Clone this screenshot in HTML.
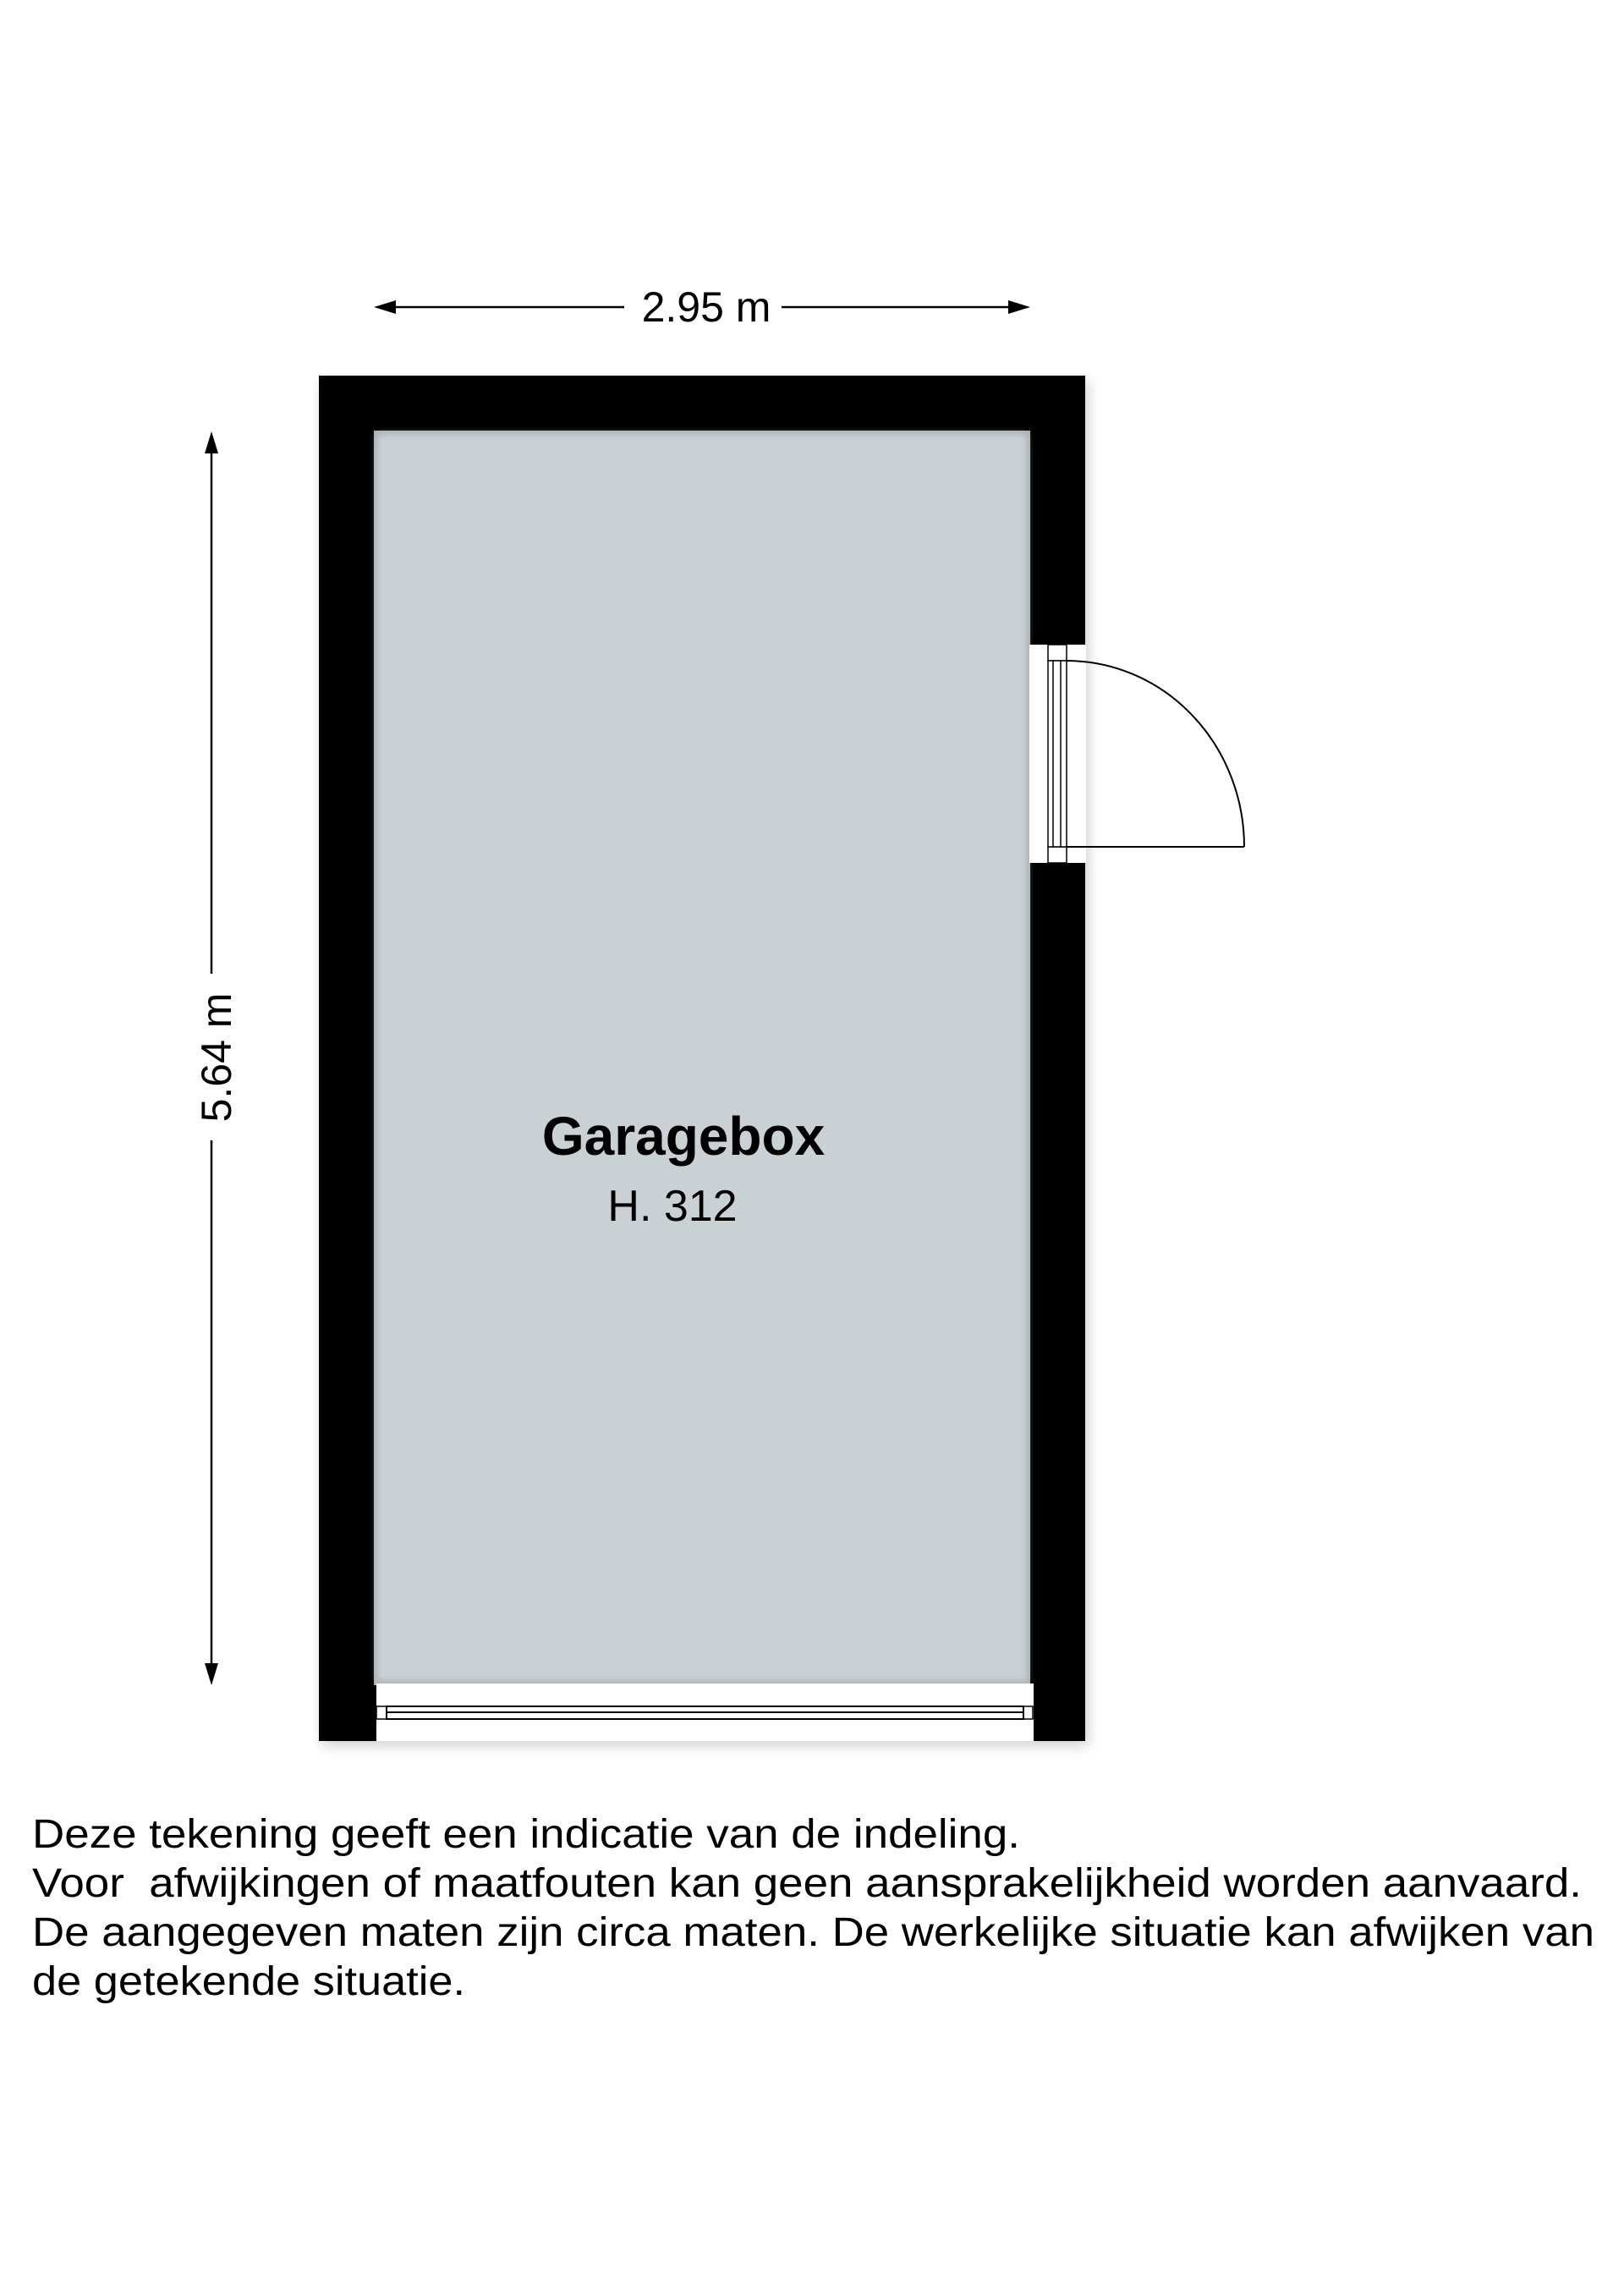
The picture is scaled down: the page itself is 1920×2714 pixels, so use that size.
<!DOCTYPE html>
<html><head><meta charset="utf-8"><style>
html,body{margin:0;padding:0;background:#fff;}
svg{display:block;}
text{font-family:"Liberation Sans",Arial,sans-serif;fill:#000;}
</style></head><body>
<svg width="1920" height="2714" viewBox="0 0 1920 2714" xmlns="http://www.w3.org/2000/svg">
<defs>
<filter id="sh" x="-10%" y="-10%" width="120%" height="120%"><feGaussianBlur stdDeviation="8"/></filter>
<filter id="ish" x="-5%" y="-5%" width="110%" height="110%"><feGaussianBlur stdDeviation="4"/></filter>
</defs>
<rect width="1920" height="2714" fill="#fff"/>
<!-- outer shadow -->
<rect x="377" y="444" width="906" height="1614" fill="#000" opacity="0.18" filter="url(#sh)" transform="translate(4,6)"/>
<!-- walls -->
<rect x="377" y="444" width="906" height="1614" fill="#000"/>
<!-- floor -->
<rect x="442" y="509" width="776" height="1483" fill="#a9b1b5"/>
<rect x="446" y="513" width="768" height="1474" fill="#c9d1d5" filter="url(#ish)"/>
<rect x="452" y="519" width="756" height="1462" fill="#c9d1d5"/>
<!-- bottom window/garage door band -->
<rect x="445" y="1990" width="777" height="68" fill="#fff"/>
<rect x="445" y="2017" width="12" height="15" fill="#fff" stroke="#000" stroke-width="1.5"/>
<rect x="1210" y="2017" width="11" height="15" fill="#fff" stroke="#000" stroke-width="1.5"/>
<rect x="457" y="2017" width="753" height="15" fill="#fff" stroke="#000" stroke-width="2"/>
<line x1="457" y1="2024" x2="1210" y2="2024" stroke="#000" stroke-width="2"/>
<!-- door opening -->
<rect x="1217" y="762" width="67" height="258" fill="#fff"/>
<rect x="1239" y="762" width="22" height="19" fill="#fff" stroke="#000" stroke-width="1.5"/>
<rect x="1239" y="1001" width="22" height="19" fill="#fff" stroke="#000" stroke-width="1.5"/>
<rect x="1239" y="781" width="22" height="220" fill="#fff" stroke="#000" stroke-width="1.5"/>
<line x1="1245" y1="781" x2="1245" y2="1001" stroke="#000" stroke-width="1.5"/>
<line x1="1254" y1="781" x2="1254" y2="1001" stroke="#000" stroke-width="1.5"/>
<line x1="1261" y1="1001" x2="1471" y2="1001" stroke="#000" stroke-width="2"/>
<path d="M1261 781 A210 220 0 0 1 1471 1001" fill="none" stroke="#000" stroke-width="2"/>
<!-- top dimension -->
<line x1="458" y1="363" x2="738" y2="363" stroke="#000" stroke-width="2.5"/>
<line x1="924" y1="363" x2="1202" y2="363" stroke="#000" stroke-width="2.5"/>
<polygon points="442,363 468,355 468,371" fill="#000"/>
<polygon points="1218,363 1192,355 1192,371" fill="#000"/>
<text x="835" y="380" font-size="50" text-anchor="middle">2.95 m</text>
<!-- left dimension -->
<line x1="250" y1="526" x2="250" y2="1151" stroke="#000" stroke-width="2.5"/>
<line x1="250" y1="1348" x2="250" y2="1976" stroke="#000" stroke-width="2.5"/>
<polygon points="250,510 242,536 258,536" fill="#000"/>
<polygon points="250,1992 242,1966 258,1966" fill="#000"/>
<text transform="translate(273,1250) rotate(-90)" font-size="50" text-anchor="middle">5.64 m</text>
<!-- labels -->
<text x="808" y="1365" font-size="64" font-weight="bold" text-anchor="middle">Garagebox</text>
<text x="795" y="1443" font-size="52" text-anchor="middle">H. 312</text>
<!-- notes -->
<text x="38" y="2184" font-size="48" textLength="1168" lengthAdjust="spacingAndGlyphs">Deze tekening geeft een indicatie van de indeling.</text>
<text x="38" y="2242" font-size="48" textLength="1832" lengthAdjust="spacingAndGlyphs" xml:space="preserve">Voor  afwijkingen of maatfouten kan geen aansprakelijkheid worden aanvaard.</text>
<text x="38" y="2300" font-size="48" textLength="1847" lengthAdjust="spacingAndGlyphs">De aangegeven maten zijn circa maten. De werkelijke situatie kan afwijken van</text>
<text x="38" y="2358" font-size="48" textLength="512" lengthAdjust="spacingAndGlyphs">de getekende situatie.</text>
</svg>
</body></html>
